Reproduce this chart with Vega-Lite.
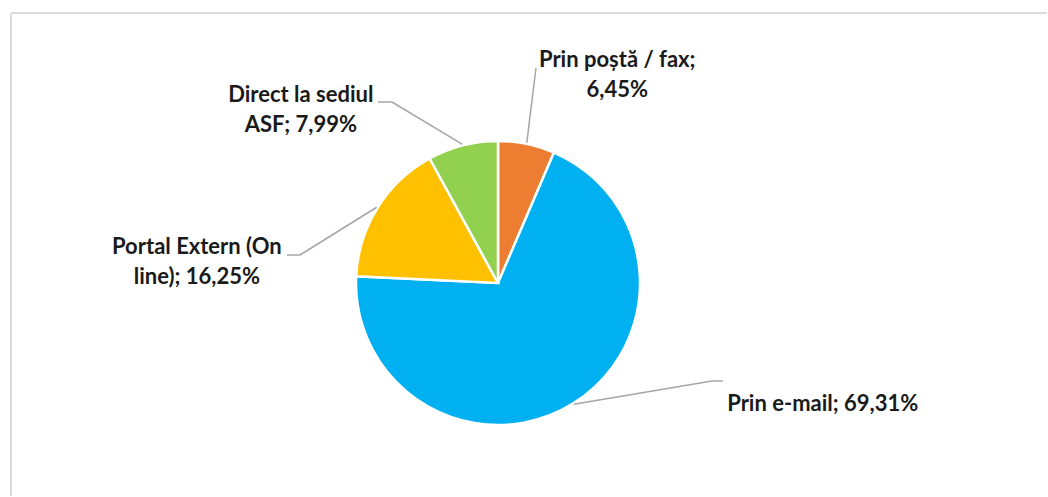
{
  "$schema": "https://vega.github.io/schema/vega-lite/v6.json",
  "width": 1048,
  "height": 497,
  "autosize": {"type": "fit", "contains": "padding"},
  "padding": {"left": 10, "top": 12, "right": 0, "bottom": 0},
  "background": "white",
  "config": {"view": {"stroke": null}},
  "data": {
    "values": [
      {"cat": "Prin poștă / fax", "label": "Prin poștă / fax;\n6,45%", "value": 6.45, "order": 1},
      {"cat": "Prin e-mail", "label": "Prin e-mail; 69,31%", "value": 69.31, "order": 2},
      {"cat": "Portal Extern (On line)", "label": "Portal Extern (On\nline); 16,25%", "value": 16.25, "order": 3},
      {"cat": "Direct la sediul ASF", "label": "Direct la sediul\nASF; 7,99%", "value": 7.99, "order": 4}
    ]
  },
  "layer": [
    {
      "data": {"values": [{"edge": "frame"}]},
      "mark": {"type": "rule", "color": "#D9D9D9", "strokeWidth": 2},
      "encoding": {
        "x": {"value": 0},
        "y": {"value": 0},
        "y2": {"value": {"expr": "height"}}
      }
    },
    {
      "data": {"values": [{"edge": "frame"}]},
      "mark": {"type": "rule", "color": "#D9D9D9", "strokeWidth": 2},
      "encoding": {
        "x": {"value": 0},
        "x2": {"value": {"expr": "width"}},
        "y": {"value": 0}
      }
    },
    {
      "mark": {"type": "arc", "radius": 142, "stroke": "white", "strokeWidth": 2.5},
      "encoding": {
        "x": {"value": {"expr": "width/2 - 31"}},
        "y": {"value": {"expr": "height/2 + 28.5"}},
        "theta": {"field": "value", "type": "quantitative", "stack": true},
        "order": {"field": "order", "type": "quantitative"},
        "color": {
          "field": "cat",
          "type": "nominal",
          "scale": {
            "domain": ["Prin poștă / fax", "Prin e-mail", "Portal Extern (On line)", "Direct la sediul ASF"],
            "range": ["#ED7D31", "#00B0F0", "#FFC000", "#92D050"]
          },
          "legend": null
        }
      }
    },
    {
      "transform": [
        {"window": [{"op": "sum", "field": "value", "as": "cum"}], "sort": [{"field": "order"}], "frame": [null, 0]}
      ],
      "mark": {"type": "rule", "color": "#A6A6A6", "strokeWidth": 1.5},
      "encoding": {
        "x": {"value": {"expr": "width/2 - 31 + 143*sin(2*PI*(datum.cum - datum.value/2)/100)"}},
        "y": {"value": {"expr": "height/2 + 28.5 - 143*cos(2*PI*(datum.cum - datum.value/2)/100)"}},
        "x2": {"value": {"expr": "width/2 - 31 + (datum.order == 1 ? 38 : datum.order == 2 ? 214 : datum.order == 3 ? -198 : -106)"}},
        "y2": {"value": {"expr": "height/2 + 28.5 + (datum.order == 1 ? -215 : datum.order == 2 ? 98 : datum.order == 3 ? -28 : -181)"}}
      }
    },
    {
      "mark": {"type": "rule", "color": "#A6A6A6", "strokeWidth": 1.5},
      "encoding": {
        "x": {"value": {"expr": "width/2 - 31 + (datum.order == 1 ? 38 : datum.order == 2 ? 214 : datum.order == 3 ? -198 : -106)"}},
        "y": {"value": {"expr": "height/2 + 28.5 + (datum.order == 1 ? -215 : datum.order == 2 ? 98 : datum.order == 3 ? -28 : -181)"}},
        "x2": {"value": {"expr": "width/2 - 31 + (datum.order == 1 ? 38 : datum.order == 2 ? 225 : datum.order == 3 ? -211 : -120)"}},
        "y2": {"value": {"expr": "height/2 + 28.5 + (datum.order == 1 ? -215 : datum.order == 2 ? 98 : datum.order == 3 ? -28 : -181)"}}
      }
    },
    {
      "mark": {
        "type": "text",
        "radius": 190,
        "font": "Lato",
        "fontSize": 22,
        "fontWeight": "bold",
        "fill": "#1a1a1a",
        "align": "center",
        "baseline": "alphabetic",
        "lineHeight": 30,
        "lineBreak": "\n",
        "dx": {"expr": "-31 + (datum.order == 1 ? 81 : datum.order == 2 ? 224 : datum.order == 3 ? -140 : -150)"},
        "dy": {"expr": "28.5 + (datum.order == 1 ? -30 : datum.order == 2 ? -33 : datum.order == 3 ? 72 : 3)"}
      },
      "encoding": {
        "theta": {"field": "value", "type": "quantitative", "stack": true},
        "order": {"field": "order", "type": "quantitative"},
        "text": {"field": "label", "type": "nominal"}
      }
    }
  ]
}
